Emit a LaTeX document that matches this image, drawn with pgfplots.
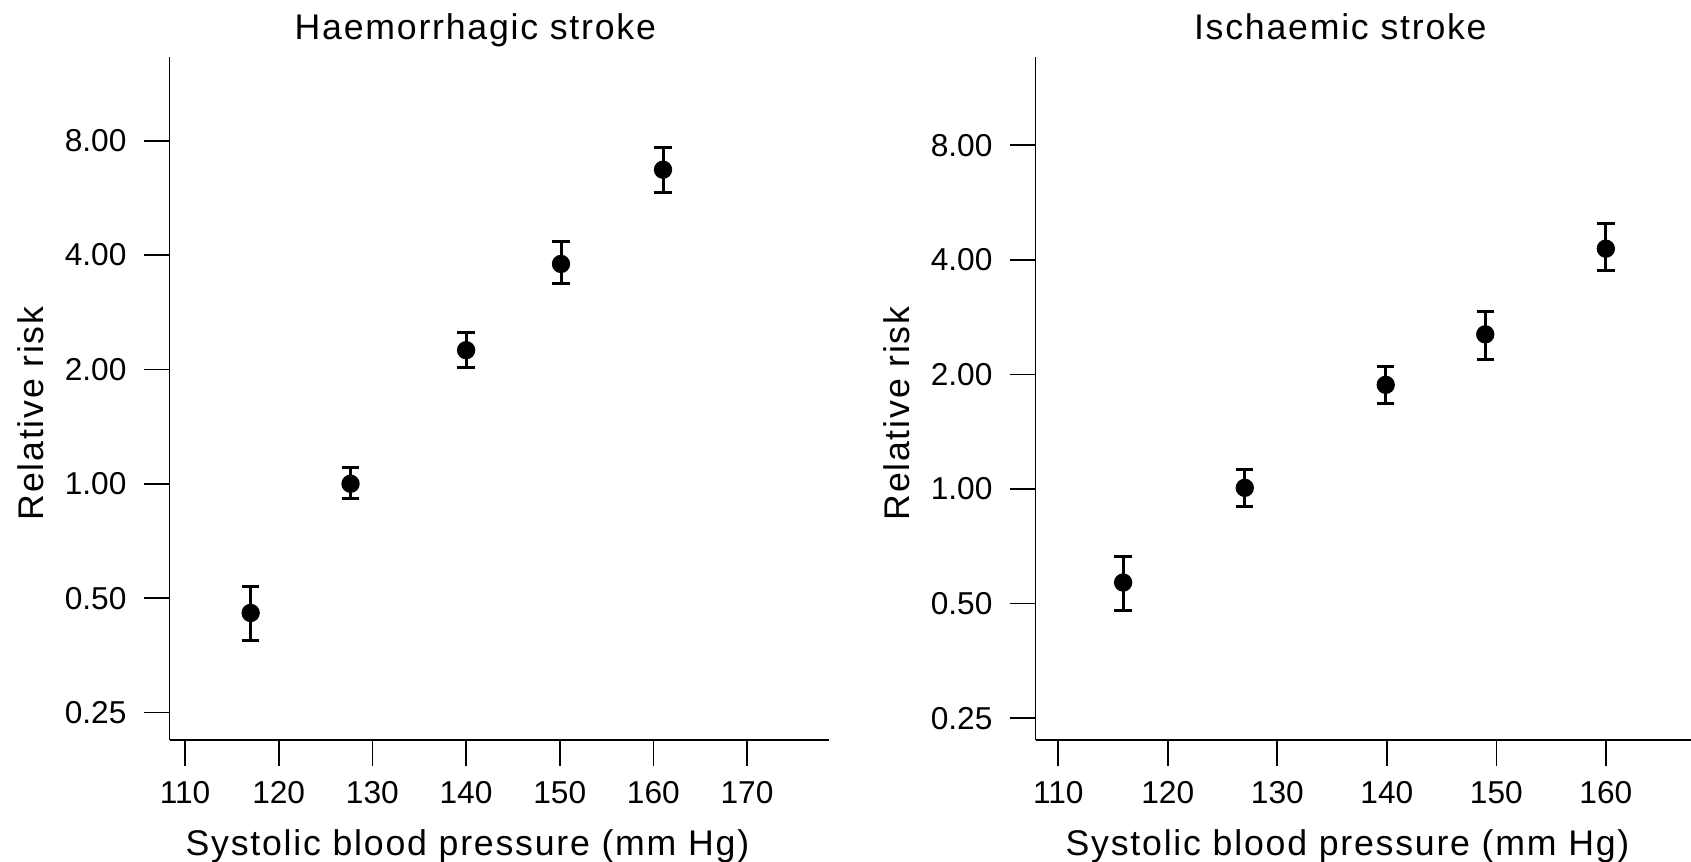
\documentclass[border=0pt]{standalone}
\usepackage{fontspec}
\setmainfont{Liberation Sans}
\newfontfamily\widefont{Liberation Sans}[LetterSpace=5]
\usepackage{pgfplots}
\usepackage{pgfplotstable}
\pgfplotsset{compat=1.18}

% relative risk by systolic blood pressure: x, estimate, upper and lower error
\pgfplotstableread{
x      y      ep     em
117.01 0.457  0.079  0.071
127.67 1.000  0.105  0.086
140.01 2.247  0.253  0.220
150.14 3.790  0.540  0.420
161.03 6.710  0.980  0.860
}\haemtable

\pgfplotstableread{
x      y      ep     em
115.92 0.568  0.098  0.087
127.03 1.007  0.117  0.108
139.90 1.878  0.222  0.203
148.99 2.549  0.381  0.355
160.0  4.280  0.700  0.540
}\ischtable

\newcommand{\labfont}{\widefont\fontsize{10.7}{12}\selectfont}
\newcommand{\tickfont}{\fontsize{9.5}{11}\selectfont}

\begin{document}
\begin{tikzpicture}
\useasboundingbox (0,0) rectangle (507.3pt,258.6pt);

\begin{axis}[
  at={(50.85pt,36.6pt)}, anchor=south west,
  scale only axis, width=197.85pt, height=204.99pt,
  ymode=log, log basis y=2,
  xmin=108.345, xmax=178.75, ymin=0.2116, ymax=13.31,
  axis x line=bottom, axis y line=left,
  axis line style={-, line width=0.5pt, black},
  tick align=outside, major tick length=7.8pt,
  tick style={black, line width=0.5pt},
  minor tick num=0,
  xtick={110,120,130,140,150,160,170},
  ytick={0.25,0.5,1,2,4,8},
  yticklabels={0.25,0.50,1.00,2.00,4.00,8.00},
  /pgf/number format/assume math mode=true,
  tick label style={font=\tickfont},
  xticklabel style={yshift=-1.1pt},
  yticklabel style={xshift=-1.6pt},
  title={Haemorrhagic stroke},
  title style={font=\labfont, anchor=base, at={(axis description cs:0.4637,0.9956)}},
  xlabel={Systolic blood pressure (mm Hg)},
  xlabel style={font=\labfont, anchor=base, at={(axis description cs:0.4517,-0.1683)}},
  ylabel={Relative risk},
  ylabel style={font=\labfont, anchor=base, at={(axis description cs:-0.1911,0.4778)}},
  clip=false,
]
\addplot[only marks, black, mark=*, mark size=2.55pt,
  error bars/y dir=both, error bars/y explicit,
  error bars/error bar style={line width=0.9pt, black},
  error bars/error mark options={line width=0.9pt, mark size=2.6pt, black, rotate=90}]
  table[x=x, y=y, y error plus=ep, y error minus=em] {\haemtable};
\end{axis}

\begin{axis}[
  at={(310.65pt,36.6pt)}, anchor=south west,
  scale only axis, width=196.65pt, height=204.99pt,
  ymode=log, log basis y=2,
  xmin=107.92, xmax=167.78, ymin=0.2191, ymax=13.67,
  axis x line=bottom, axis y line=left,
  axis line style={-, line width=0.5pt, black},
  tick align=outside, major tick length=7.8pt,
  tick style={black, line width=0.5pt},
  minor tick num=0,
  xtick={110,120,130,140,150,160},
  ytick={0.25,0.5,1,2,4,8},
  yticklabels={0.25,0.50,1.00,2.00,4.00,8.00},
  /pgf/number format/assume math mode=true,
  tick label style={font=\tickfont},
  xticklabel style={yshift=-1.1pt},
  yticklabel style={xshift=-1.6pt},
  title={Ischaemic stroke},
  title style={font=\labfont, anchor=base, at={(axis description cs:0.465,0.9956)}},
  xlabel={Systolic blood pressure (mm Hg)},
  xlabel style={font=\labfont, anchor=base, at={(axis description cs:0.476,-0.1683)}},
  ylabel={Relative risk},
  ylabel style={font=\labfont, anchor=base, at={(axis description cs:-0.193,0.4778)}},
  clip=false,
]
\addplot[only marks, black, mark=*, mark size=2.55pt,
  error bars/y dir=both, error bars/y explicit,
  error bars/error bar style={line width=0.9pt, black},
  error bars/error mark options={line width=0.9pt, mark size=2.6pt, black, rotate=90}]
  table[x=x, y=y, y error plus=ep, y error minus=em] {\ischtable};
\end{axis}
\end{tikzpicture}
\end{document}
